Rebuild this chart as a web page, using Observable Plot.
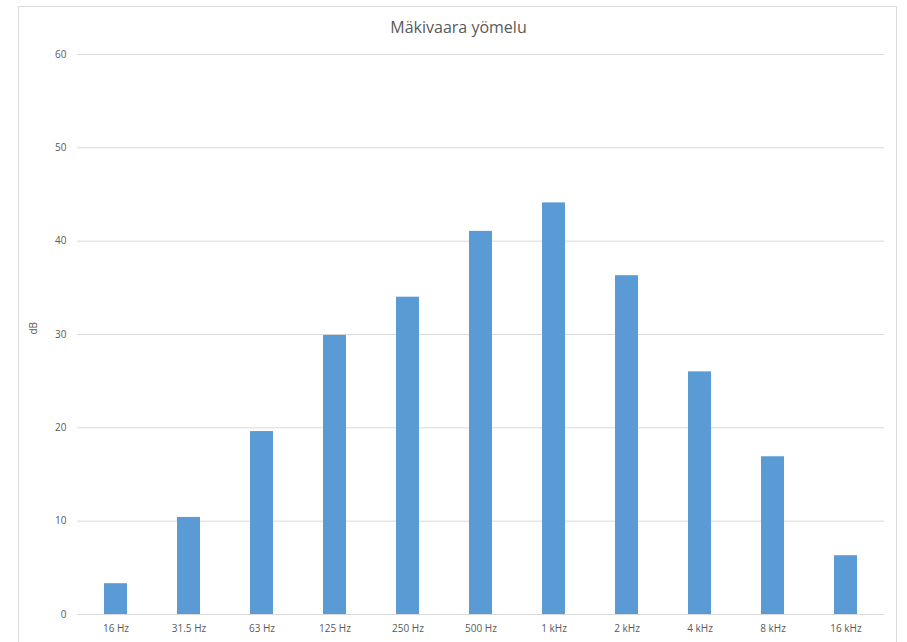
<!DOCTYPE html>
<html>
<head>
<meta charset="utf-8">
<script src="https://cdn.jsdelivr.net/npm/d3@7"></script>
<script src="https://cdn.jsdelivr.net/npm/@observablehq/plot@0.6"></script>
<style>
  html, body { margin: 0; padding: 0; background: #fff; }
  #wrap { position: relative; width: 907px; height: 642px; overflow: hidden; }
  #frame { position: absolute; left: 18px; top: 6px; width: 879px; height: 700px; border: 1px solid #d9d9d9; box-sizing: border-box; }
  #title { position: absolute; left: 0; width: 917px; top: 16px; text-align: center; font-family: "Open Sans", sans-serif; font-size: 16px; color: #595959; }
  #chart { position: absolute; left: 0; top: 0; }
</style>
</head>
<body>
<div id="wrap">
  <div id="frame"></div>
  <div id="title">Mäkivaara yömelu</div>
  <div id="chart"></div>
</div>
<script>
const categories = ["16 Hz", "31.5 Hz", "63 Hz", "125 Hz", "250 Hz", "500 Hz", "1 kHz", "2 kHz", "4 kHz", "8 kHz", "16 kHz"];
const values = [3.3, 10.4, 19.6, 29.9, 34.0, 41.05, 44.1, 36.3, 26.0, 16.9, 6.3];
const yTicks = [0, 10, 20, 30, 40, 50, 60];
const yLabel = "dB";

const data = categories.map((c, i) => ({ band: c, value: values[i] }));

const chart = Plot.plot({
  width: 907,
  height: 642,
  marginLeft: 77,
  marginRight: 23,
  marginTop: 54,
  marginBottom: 28,
  style: { fontFamily: "'Open Sans', sans-serif", fontSize: "10px", color: "#595959", background: "transparent" },
  x: { domain: categories, paddingInner: 0.687, paddingOuter: 0.3, label: null, tickSize: 0, tickPadding: 10 },
  y: { domain: [0, 60], ticks: yTicks, label: null, tickSize: 0, tickPadding: 11 },
  marks: [
    Plot.gridY(yTicks, { stroke: "#d9d9d9", strokeOpacity: 1, strokeWidth: 1 }),
    Plot.barY(data, { x: "band", y: "value", fill: "#5b9bd5" }),
    Plot.ruleY([0], { stroke: "#d9d9d9", strokeWidth: 1 }),
    Plot.axisY({ ticks: yTicks, tickSize: 0, tickPadding: 11, label: null, fontSize: 10 }),
    Plot.axisX({ tickSize: 0, tickPadding: 10, label: null, fontSize: 10 }),
    Plot.text([yLabel], { frameAnchor: "left", dx: -44, rotate: -90, fontSize: 10, fill: "#595959" })
  ]
});
document.getElementById("chart").appendChild(chart);
</script>
</body>
</html>
